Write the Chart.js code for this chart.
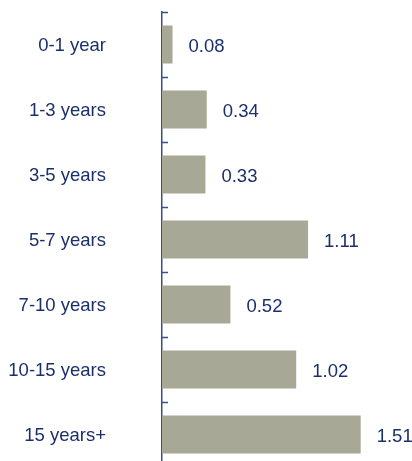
<!DOCTYPE html>
<html>
<head>
<meta charset="utf-8">
<script src="https://cdn.jsdelivr.net/npm/chart.js@4"></script>
<style>
  html, body { margin: 0; padding: 0; background: #fff; overflow: hidden; }
  canvas { display: block; }
</style>
</head>
<body>
<canvas id="chartctx" width="412" height="467"></canvas>
<script>
const labels = ['0-1 year', '1-3 years', '3-5 years', '5-7 years', '7-10 years', '10-15 years', '15 years+']
const values = [0.08, 0.34, 0.33, 1.11, 0.52, 1.02, 1.51]

const textColor = '#1b2f6b'
const axisColor = '#34508f'
const barColor = '#a7a895'
const font = { family: 'Liberation Sans, Arial, sans-serif', size: 18.5 }

// tick marks point right, into the plot
const axisTicks = {
  id: 'axisTicks',
  afterDraw(chart) {
    const { ctx, scales: { x, y } } = chart
    ctx.save()
    ctx.strokeStyle = axisColor
    ctx.lineWidth = 1.5
    for (let i = 0; i <= labels.length; i++) {
      const py = Math.round(y.getPixelForValue(i - 0.5)) + 0.5
      ctx.beginPath()
      ctx.moveTo(x.left, py)
      ctx.lineTo(x.left + 6, py)
      ctx.stroke()
    }
    ctx.restore()
  }
}

const valueLabels = {
  id: 'valueLabels',
  afterDatasetsDraw(chart) {
    const { ctx } = chart
    const meta = chart.getDatasetMeta(0)
    ctx.save()
    ctx.fillStyle = textColor
    ctx.font = `${font.size}px ${font.family}`
    ctx.textAlign = 'left'
    ctx.textBaseline = 'middle'
    meta.data.forEach((bar, idx) => {
      ctx.fillText(values[idx].toFixed(2), bar.x + 16, bar.y + 2)
    })
    ctx.restore()
  }
}

new Chart(document.getElementById('chartctx'), {
  type: 'bar',
  data: {
    labels: labels,
    datasets: [{
      data: values,
      backgroundColor: barColor,
      borderWidth: 0,
      categoryPercentage: 1,
      barPercentage: 0.585,
    }]
  },
  options: {
    indexAxis: 'y',
    responsive: false,
    animation: false,
    devicePixelRatio: 1,
    layout: { padding: { top: 12, right: 0, bottom: 0, left: 0 } },
    plugins: {
      legend: { display: false },
      tooltip: { enabled: false },
    },
    scales: {
      x: {
        min: 0,
        max: 1.9,
        display: false,
      },
      y: {
        offset: true,
        afterFit: (scale) => {
          scale.width = 162
          scale.paddingTop = 0
          scale.paddingBottom = 0
        },
        grid: { display: false, drawTicks: false },
        border: { color: axisColor, width: 1.5 },
        ticks: { color: textColor, font: font, padding: 56, labelOffset: 1.5 },
      }
    }
  },
  plugins: [axisTicks, valueLabels],
})
</script>
</body>
</html>
